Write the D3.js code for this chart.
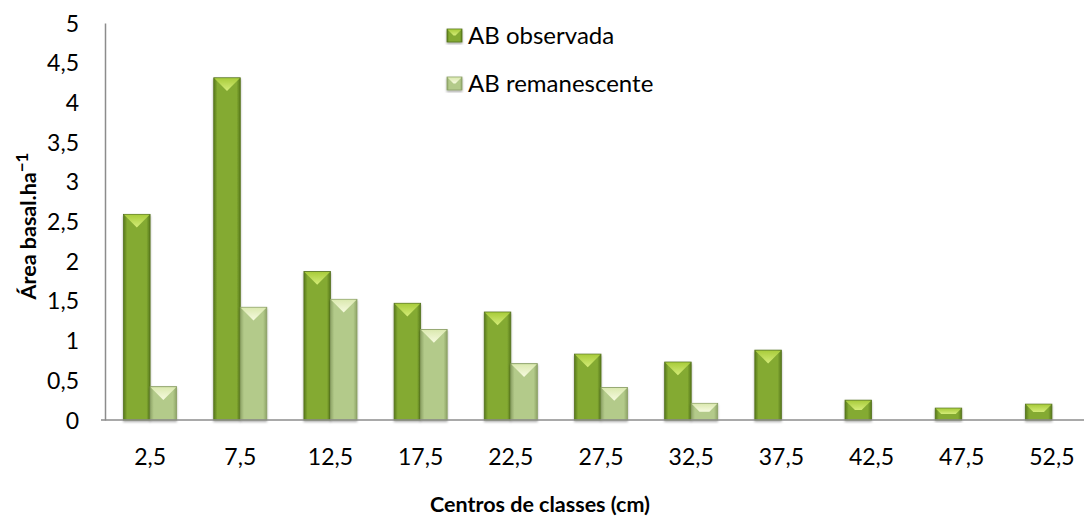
<!DOCTYPE html>
<html>
<head>
<meta charset="utf-8">
<script src="https://cdn.jsdelivr.net/npm/d3@7"></script>
<style>
  body { margin: 0; background: #fff; }
  svg text { font-family: Lato, "Open Sans", sans-serif; fill: #000; }
  .tick text { font-size: 23px; }
  .axisTitle { font-size: 21.5px; font-weight: bold; }
  .legend text { font-size: 24px; }
</style>
</head>
<body>
<div id="chart"></div>
<script>
const categories = ["2,5", "7,5", "12,5", "17,5", "22,5", "27,5", "32,5", "37,5", "42,5", "47,5", "52,5"];
const abObservada = [2.59, 4.31, 1.87, 1.47, 1.36, 0.83, 0.73, 0.88, 0.25, 0.15, 0.20];
const abRemanescente = [0.42, 1.42, 1.52, 1.14, 0.71, 0.41, 0.21, 0, 0, 0, 0];
const seriesNames = ["AB observada", "AB remanescente"];
const yTicks = [0, 0.5, 1, 1.5, 2, 2.5, 3, 3.5, 4, 4.5, 5];

const width = 1084, height = 519;

// colours per series: edge, body, top bevel (light -> lighter)
const palette = [
	{edge: "#587a1c", body: "#84aa32", top1: "#a9cc3c", top2: "#d4ec78", stroke: "#56731f"},
	{edge: "#8ea466", body: "#b3ca8a", top1: "#dbe9b0", top2: "#f6fadf", stroke: "#8a9f64"}
];

const svg = d3.select("#chart")
	.append("svg")
	.attr("width", width)
	.attr("height", height);

const defs = svg.append("defs");
palette.forEach((p, i) => {
	const g = defs.append("linearGradient").attr("id", "body" + i)
		.attr("x1", "0%").attr("x2", "100%").attr("y1", "0%").attr("y2", "0%");
	g.append("stop").attr("offset", "0%").attr("stop-color", p.edge);
	g.append("stop").attr("offset", "14%").attr("stop-color", p.body);
	g.append("stop").attr("offset", "50%").attr("stop-color", p.body);
	g.append("stop").attr("offset", "86%").attr("stop-color", p.body);
	g.append("stop").attr("offset", "100%").attr("stop-color", p.edge);
	const t = defs.append("linearGradient").attr("id", "top" + i)
		.attr("x1", "0%").attr("x2", "0%").attr("y1", "0%").attr("y2", "100%");
	t.append("stop").attr("offset", "0%").attr("stop-color", p.top1);
	t.append("stop").attr("offset", "100%").attr("stop-color", p.top2);
});
const shadow = defs.append("filter").attr("id", "shadow")
	.attr("x", "-20%").attr("y", "-10%").attr("width", "140%").attr("height", "130%");
shadow.append("feDropShadow").attr("dx", 0).attr("dy", 1.5)
	.attr("stdDeviation", 1).attr("flood-color", "#000").attr("flood-opacity", 0.35);

const xScale = d3.scaleBand()
	.domain(categories)
	.range([105, 1097]);

const x1 = d3.scaleBand()
	.domain([0, 1])
	.range([0, xScale.bandwidth()])
	.paddingOuter(0.7);

const yScale = d3.scaleLinear()
	.domain([0, 5])
	.range([420, 23]);

// draws a bar with a bevelled look
function bevelBar(sel, x, y, w, h, i) {
	const p = palette[i];
	const g = sel.append("g").attr("filter", "url(#shadow)");
	g.append("rect")
		.attr("x", x).attr("y", y)
		.attr("width", w).attr("height", h)
		.attr("fill", "url(#body" + i + ")")
		.attr("stroke", p.stroke)
		.attr("stroke-width", 0.8);
	const b = Math.min(w / 2, h / 2);
	g.append("path")
		.attr("d", "M" + (x + 0.5) + "," + (y + 0.5) +
			"L" + (x + w - 0.5) + "," + (y + 0.5) +
			"L" + (x + w - b) + "," + (y + b) +
			"L" + (x + b) + "," + (y + b) + "Z")
		.attr("fill", "url(#top" + i + ")");
}

const rows = categories.map((c, k) => ({cat: c, vals: [abObservada[k], abRemanescente[k]]}));

const bars = svg.append("g").attr("class", "bars");
rows.forEach((r) => {
	r.vals.forEach((v, i) => {
		if (!v) return;
		const x = xScale(r.cat) + x1(i);
		bevelBar(bars, x, yScale(v), x1.bandwidth(), yScale(0) - yScale(v), i);
	});
});

// axes
const yAxis = d3.axisLeft(yScale)
	.tickValues(yTicks)
	.tickSize(0)
	.tickPadding(26)
	.tickFormat((d) => String(d).replace(".", ","));

const yG = svg.append("g")
	.attr("transform", "translate(105,0)")
	.call(yAxis);
yG.select(".domain").attr("stroke", "#8c8c8c").attr("stroke-width", 1.5);
yG.selectAll(".tick text").attr("dy", "0.35em");

const xAxis = d3.axisBottom(xScale)
	.tickSize(0)
	.tickPadding(29);

const xG = svg.append("g")
	.attr("transform", "translate(0,420)")
	.call(xAxis);
xG.select(".domain").attr("stroke", "#8c8c8c").attr("stroke-width", 1.5)
	.attr("d", "M101,0H1097");

const yTitle = svg.append("text")
	.attr("class", "axisTitle")
	.attr("transform", "rotate(-90)")
	.attr("x", -226)
	.attr("y", 36)
	.attr("text-anchor", "middle");
yTitle.append("tspan").text("Área basal.ha");
yTitle.append("tspan").attr("dy", "-0.45em").style("font-size", "17px").text("−1");

svg.append("text")
	.attr("class", "axisTitle")
	.attr("x", 540)
	.attr("y", 512)
	.attr("text-anchor", "middle")
	.text("Centros de classes (cm)");

// legend
const legend = svg.selectAll(".legend")
	.data(seriesNames)
	.enter()
	.append("g")
	.attr("class", "legend")
	.attr("transform", (d, i) => "translate(447," + (29 + i * 48) + ")");

legend.each(function(d, i) {
	bevelBar(d3.select(this), 0, 0, 15, 13, i);
});

legend.append("text")
	.attr("x", 21)
	.attr("y", 7)
	.attr("dy", "0.35em")
	.text(String);
</script>
</body>
</html>
